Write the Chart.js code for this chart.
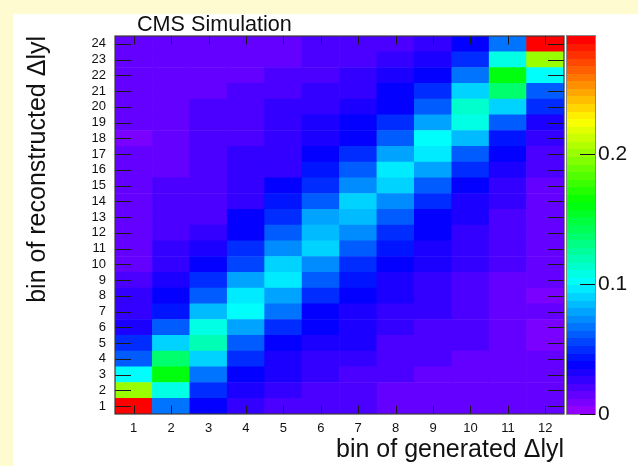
<!DOCTYPE html>
<html>
<head>
<meta charset="utf-8">
<script src="https://cdn.jsdelivr.net/npm/chart.js@4/dist/chart.umd.min.js"></script>
<style>
  html, body { margin: 0; padding: 0; width: 638px; height: 466px; overflow: hidden; background: #fdfbcf; }
  #pad { position: absolute; left: 13px; top: 14px; width: 625px; height: 452px; background: #ffffff; }
  canvas { display: block; }
</style>
</head>
<body>
<div id="pad"><canvas id="migration" width="625" height="452"></canvas></div>
<script>
// Generated |Δy| bins (x) and reconstructed |Δy| bins (y)
const genBins = ['1', '2', '3', '4', '5', '6', '7', '8', '9', '10', '11', '12'];
const recoBins = [1, 2, 3, 4, 5, 6, 7, 8, 9, 10, 11, 12, 13, 14, 15, 16, 17, 18, 19, 20, 21, 22, 23, 24];
const paletteTicks = [0, 0.1, 0.2];

// Fraction of events in each reconstructed bin (1..24) for a given generated bin
const gen1  = [0.291, 0.201, 0.102, 0.061, 0.050, 0.032, 0.026, 0.026, 0.020, 0.015, 0.015, 0.015, 0.015, 0.015, 0.015, 0.015, 0.015, 0.009, 0.015, 0.015, 0.015, 0.015, 0.015, 0.015];
const gen2  = [0.067, 0.108, 0.160, 0.137, 0.090, 0.061, 0.044, 0.038, 0.032, 0.026, 0.026, 0.020, 0.020, 0.020, 0.020, 0.015, 0.015, 0.015, 0.015, 0.015, 0.015, 0.015, 0.015, 0.015];
const gen3  = [0.038, 0.050, 0.067, 0.090, 0.119, 0.108, 0.084, 0.061, 0.050, 0.038, 0.032, 0.026, 0.020, 0.020, 0.020, 0.020, 0.020, 0.020, 0.020, 0.020, 0.015, 0.015, 0.015, 0.015];
const gen4  = [0.026, 0.032, 0.038, 0.050, 0.061, 0.079, 0.102, 0.096, 0.079, 0.055, 0.050, 0.038, 0.038, 0.026, 0.026, 0.026, 0.026, 0.020, 0.020, 0.020, 0.020, 0.015, 0.015, 0.015];
const gen5  = [0.020, 0.026, 0.032, 0.032, 0.038, 0.050, 0.067, 0.079, 0.096, 0.090, 0.073, 0.061, 0.050, 0.044, 0.038, 0.026, 0.026, 0.026, 0.026, 0.026, 0.020, 0.020, 0.015, 0.015];
const gen6  = [0.020, 0.020, 0.026, 0.026, 0.032, 0.038, 0.038, 0.050, 0.061, 0.073, 0.090, 0.084, 0.079, 0.061, 0.050, 0.044, 0.038, 0.032, 0.032, 0.026, 0.026, 0.020, 0.020, 0.020];
const gen7  = [0.020, 0.020, 0.020, 0.026, 0.032, 0.032, 0.032, 0.038, 0.044, 0.050, 0.061, 0.073, 0.084, 0.090, 0.073, 0.061, 0.050, 0.038, 0.038, 0.032, 0.026, 0.026, 0.020, 0.020];
const gen8  = [0.015, 0.015, 0.020, 0.020, 0.020, 0.026, 0.026, 0.032, 0.032, 0.038, 0.044, 0.050, 0.061, 0.073, 0.090, 0.096, 0.079, 0.061, 0.050, 0.038, 0.038, 0.032, 0.026, 0.020];
const gen9  = [0.015, 0.015, 0.015, 0.020, 0.020, 0.020, 0.026, 0.026, 0.026, 0.032, 0.032, 0.038, 0.038, 0.050, 0.061, 0.079, 0.096, 0.102, 0.079, 0.061, 0.050, 0.038, 0.032, 0.026];
const gen10 = [0.015, 0.015, 0.015, 0.015, 0.020, 0.020, 0.020, 0.020, 0.020, 0.026, 0.026, 0.026, 0.032, 0.032, 0.038, 0.050, 0.061, 0.084, 0.108, 0.114, 0.090, 0.067, 0.050, 0.038];
const gen11 = [0.015, 0.015, 0.015, 0.015, 0.015, 0.015, 0.015, 0.015, 0.015, 0.020, 0.020, 0.020, 0.020, 0.026, 0.026, 0.032, 0.038, 0.044, 0.061, 0.090, 0.137, 0.160, 0.108, 0.067];
const gen12 = [0.015, 0.015, 0.015, 0.015, 0.009, 0.009, 0.015, 0.009, 0.015, 0.015, 0.015, 0.015, 0.015, 0.015, 0.015, 0.020, 0.020, 0.026, 0.032, 0.050, 0.061, 0.102, 0.201, 0.288];

const columns = [gen1, gen2, gen3, gen4, gen5, gen6, gen7, gen8, gen9, gen10, gen11, gen12];
const zMax = Math.max(...columns.flat());
const nColors = 50;

// Violet-to-red rainbow palette, 50 levels
function paletteColor(k) {
  const hue = 280 - (k + 1) * (280 / nColors);
  return `hsl(${hue.toFixed(2)}, 100%, 50%)`;
}
function colorFor(v) {
  let k = Math.floor(0.01 + v / zMax * nColors);
  if (k > nColors - 1) k = nColors - 1;
  if (k < 0) k = 0;
  return paletteColor(k);
}

// One floating-bar dataset per reconstructed bin: each bar spans that bin's row
const datasets = recoBins.map((r, ri) => ({
  label: 'reco ' + r,
  data: genBins.map(() => [r - 0.5, r + 0.5]),
  backgroundColor: columns.map(col => colorFor(col[ri])),
  borderWidth: 0,
  barPercentage: 1,
  categoryPercentage: 1,
  grouped: false,
  yAxisID: 'y'
}));

const FONT = '"Liberation Sans", Arial, Helvetica, sans-serif';

const frameAndPalette = {
  id: 'frameAndPalette',
  afterDatasetsDraw(chart) {
    const { ctx, chartArea: a, scales } = chart;
    const x = scales.x, y = scales.y, z = scales.z;
    ctx.save();

    // tick marks pointing into the frame
    ctx.strokeStyle = '#1a1a1a';
    ctx.lineWidth = 1;
    ctx.beginPath();
    y.ticks.forEach(t => {
      const py = Math.round(y.getPixelForValue(t.value)) + 0.5;
      ctx.moveTo(a.left, py); ctx.lineTo(a.left + 16, py);
      ctx.moveTo(a.right - 16, py); ctx.lineTo(a.right, py);
    });
    x.ticks.forEach((t, i) => {
      const px = Math.round(x.getPixelForTick(i)) + 0.5;
      ctx.moveTo(px, a.bottom); ctx.lineTo(px, a.bottom - 8.5);
      ctx.moveTo(px, a.top); ctx.lineTo(px, a.top + 8.5);
    });
    ctx.stroke();

    // frame
    ctx.strokeStyle = '#3a3a3a';
    ctx.lineWidth = 1.2;
    ctx.strokeRect(a.left, a.top, a.right - a.left, a.bottom - a.top);

    // colour palette on the z axis
    const x0 = z.left + 3, w = 28;
    for (let k = 0; k < nColors; k++) {
      const yb = Math.round(z.getPixelForValue(k * zMax / nColors));
      const yt = Math.round(z.getPixelForValue((k + 1) * zMax / nColors));
      ctx.fillStyle = paletteColor(k);
      ctx.fillRect(x0, yt, w, yb - yt);
    }
    ctx.strokeStyle = '#8a8a8a';
    ctx.lineWidth = 1;
    ctx.strokeRect(x0 - 0.5, z.top - 0.5, w + 1, z.bottom - z.top + 1);
    ctx.strokeStyle = '#111';
    ctx.beginPath();
    z.ticks.forEach(t => {
      const py = Math.round(z.getPixelForValue(t.value)) + 0.5;
      ctx.moveTo(x0 + w, py); ctx.lineTo(x0 + w - 15, py);
    });
    ctx.stroke();

    // header text
    ctx.fillStyle = '#111';
    ctx.font = '21.6px ' + FONT;
    ctx.textAlign = 'left';
    ctx.textBaseline = 'alphabetic';
    ctx.fillText('CMS Simulation', a.left + 22, 17);
    ctx.restore();
  }
};

new Chart(document.getElementById('migration'), {
  type: 'bar',
  data: { labels: genBins, datasets },
  plugins: [frameAndPalette],
  options: {
    responsive: false,
    animation: false,
    events: [],
    layout: { padding: { top: 22, left: 0, right: 0, bottom: 0 } },
    plugins: { legend: { display: false }, tooltip: { enabled: false }, title: { display: false } },
    scales: {
      x: {
        type: 'category',
        offset: true,
        grid: { display: false, drawTicks: false },
        border: { display: false },
        ticks: { color: '#111', font: { family: FONT, size: 13 }, padding: 7, maxRotation: 0, autoSkip: false },
        title: { display: true, text: 'bin of generated Δlyl', align: 'end', color: '#111',
                 font: { family: FONT, size: 25 }, padding: { top: 0, bottom: 1 } },
        afterFit(s) { s.height = 52; }
      },
      y: {
        type: 'linear',
        position: 'left',
        min: 0.5,
        max: 24.5,
        grid: { display: false, drawTicks: false },
        border: { display: false },
        afterBuildTicks(s) { s.ticks = recoBins.map(v => ({ value: v })); },
        ticks: { color: '#111', font: { family: FONT, size: 13 }, padding: 9, autoSkip: false,
                 callback: v => String(v) },
        title: { display: true, text: 'bin of reconstructed Δlyl', align: 'end', color: '#111',
                 font: { family: FONT, size: 25 }, padding: { top: 10, bottom: 0 } },
        afterFit(s) { s.width = 102; }
      },
      z: {
        type: 'linear',
        position: 'right',
        min: 0,
        max: zMax,
        // invisible tick marks reserve the space between the plot and the labels
        grid: { display: true, drawOnChartArea: false, drawTicks: true, tickLength: 31, color: 'rgba(0,0,0,0)' },
        border: { display: false },
        afterBuildTicks(s) { s.ticks = paletteTicks.map(v => ({ value: v })); },
        ticks: { color: '#111', font: { family: FONT, size: 21 }, padding: 3, autoSkip: false,
                 callback: v => (v === 0 ? '0' : v.toFixed(1)) },
        afterFit(s) { s.width = 74; }
      }
    }
  }
});
</script>
</body>
</html>
